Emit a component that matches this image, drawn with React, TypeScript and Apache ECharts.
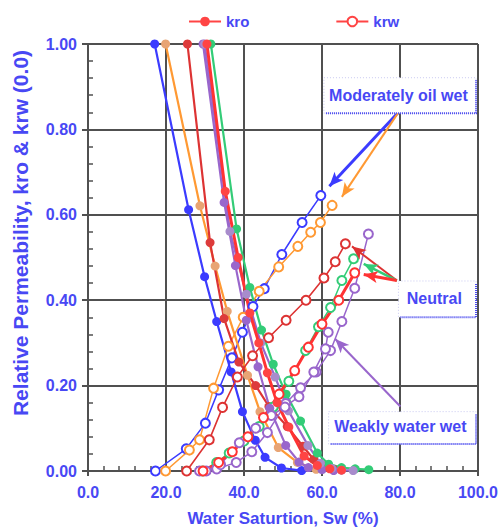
import React, { useEffect, useRef } from "react";
import * as echarts from "echarts";

// ---- data (Sw %, kr) ----
const blueKro = [[17.1,1.0],[25.8,0.612],[29.9,0.455],[33,0.35],[36.7,0.232],[39.6,0.139],[42.9,0.072],[45.4,0.032],[49.6,0.007],[54.8,0.001]];
const blueKrw = [[17.3,0],[25.2,0.052],[30.1,0.112],[33.5,0.19],[36.9,0.265],[39.6,0.325],[42.3,0.385],[45.2,0.427],[49.7,0.507],[54.9,0.582],[59.7,0.645]];
const orangeKro = [[19.9,1.0],[28.7,0.621],[32.6,0.48],[35.7,0.374],[40.9,0.224],[44.1,0.139],[48.8,0.055],[53.7,0.02],[58.5,0.004]];
const orangeKrw = [[19.9,0],[26,0.049],[28.6,0.073],[32.2,0.194],[36,0.292],[39.8,0.36],[43.9,0.421],[48.9,0.478],[53.8,0.526],[57.1,0.559],[59.6,0.582],[62.6,0.622]];
const darkRedKro = [[25.5,1.0],[31.3,0.535],[34.9,0.357],[38.7,0.255],[43,0.2],[46.4,0.151],[51.1,0.104],[55.1,0.058],[57.9,0.027],[60.5,0.012],[63,0.004]];
const darkRedKrw = [[25.3,0],[31.1,0.073],[34.5,0.149],[38.3,0.22],[42.2,0.27],[46.3,0.312],[50.8,0.353],[55.9,0.4],[60.5,0.452],[63.4,0.49],[66,0.532]];
const redKro = [[30.5,1.0],[35.2,0.655],[38.5,0.5],[41.5,0.37],[43.8,0.3],[46,0.23],[48.5,0.16],[51.5,0.103],[55.4,0.035],[58.8,0.013],[62,0.005],[65,0.002]];
const redKrw = [[29.5,0],[33.5,0.02],[37,0.045],[41,0.08],[45,0.125],[49,0.18],[53,0.235],[56.5,0.29],[60,0.344],[64.3,0.4],[68.4,0.464]];
const greenKro = [[31.5,1.0],[38.1,0.567],[41.5,0.43],[44.5,0.33],[47.5,0.25],[50.8,0.18],[54.5,0.117],[58.8,0.042],[61.7,0.016],[65,0.008],[68.5,0.005],[72,0.003]];
const greenKrw = [[29.4,0],[33,0.02],[36.2,0.042],[40,0.07],[43.9,0.104],[47.5,0.15],[51.5,0.21],[55.8,0.282],[59.1,0.338],[62.2,0.383],[65.1,0.446],[68.1,0.497]];
const purpleKro = [[29.5,1.0],[34.9,0.629],[37.8,0.481],[40.6,0.353],[43.6,0.244],[46.6,0.147],[50.7,0.06],[54.1,0.021],[56.5,0.008],[60,0.003],[63,0.001]];
const purpleKrw = [[28.6,0],[33,0.005],[38,0.02],[42,0.045],[46,0.09],[50.7,0.158],[54.5,0.195],[58.5,0.232],[62.2,0.282],[65.1,0.35],[68.4,0.428],[71.9,0.555]];
const lilacKro = [[29.9,1.0],[36.4,0.561],[40.6,0.414],[44.3,0.3],[48,0.22],[51.4,0.141],[56.4,0.06],[59.6,0.018],[62.5,0.006],[65,0.002],[68,0.001]];
const lilacKrw = [[30.3,0],[34,0.015],[38.8,0.066],[43,0.1],[47,0.13],[50.5,0.15],[54.1,0.174],[57.9,0.232],[60.9,0.286],[61.6,0.325]];

const legendNames = ["kro", "krw"];
const xTickValues = [0, 20, 40, 60, 80, 100];
const yTickValues = [0, 0.2, 0.4, 0.6, 0.8, 1.0];
const yTitle = "Relative Permeability, kro & krw (0.0)";
const xTitle = "Water Saturtion, Sw (%)";

const annotations = [
  { text: "Moderately oil wet", box: [60.5, 0.838, 99.5, 0.921], at: [79.6, 0.879] },
  { text: "Neutral", box: [79.6, 0.36, 99.5, 0.445], at: [88.8, 0.405] },
  { text: "Weakly water wet", box: [61.7, 0.063, 99.5, 0.139], at: [80.1, 0.104] },
];

const arrows = [
  { from: [79.6, 0.84], to: [61.9, 0.667], color: "#3b3bff", width: 3 },
  { from: [79.6, 0.84], to: [65.1, 0.642], color: "#ff9933", width: 2 },
  { from: [79.2, 0.446], to: [67.7, 0.526], color: "#dd3333", width: 2 },
  { from: [79.2, 0.446], to: [70.7, 0.485], color: "#33cc77", width: 2.5 },
  { from: [79.2, 0.446], to: [70.7, 0.46], color: "#ff3333", width: 3 },
  { from: [80.1, 0.151], to: [63.4, 0.309], color: "#9966cc", width: 2 },
];

const FONT = "Liberation Sans";
const BLUE_TEXT = "#4848f4";
const GRID_COLOR = "#505050";

function kro(data: number[][], line: string, marker: string, width = 2.2) {
  return {
    type: "line", data, symbol: "circle", symbolSize: 9, z: 3,
    lineStyle: { color: line, width },
    itemStyle: { color: marker },
  };
}
function krw(data: number[][], color: string, width = 1.5) {
  return {
    type: "line", data, symbol: "emptyCircle", symbolSize: 9, z: 3,
    lineStyle: { color, width },
    itemStyle: { color, borderColor: color, borderWidth: 1.5 },
  };
}

export default function App() {
  const ref = useRef<HTMLDivElement>(null);
  useEffect(() => {
    const chart = echarts.init(ref.current!, null, { renderer: "svg" });
    const labelStyle = { color: BLUE_TEXT, fontFamily: FONT, fontWeight: "bold", fontSize: 16 };
    const arrowSeries = {
      type: "line", data: [], silent: true,
      markLine: {
        silent: true, animation: false,
        symbol: ["none", "arrow"], symbolSize: [9, 14],
        label: { show: false },
        data: arrows.map((a) => [
          { coord: a.from, lineStyle: { color: a.color, width: a.width, type: "solid" }, itemStyle: { color: a.color } },
          { coord: a.to },
        ]),
      },
    };
    chart.setOption({
      animation: false,
      backgroundColor: "#ffffff",
      grid: { left: 88, right: 21, top: 44, bottom: 57 },
      legend: {
        data: legendNames, top: 9, left: 183, itemWidth: 32, itemHeight: 12, itemGap: 86,
        textStyle: { ...labelStyle, fontSize: 15 },
      },
      xAxis: [
        {
          type: "value", min: 0, max: 100, interval: 20,
          name: xTitle, nameLocation: "middle", nameGap: 39,
          nameTextStyle: { ...labelStyle, fontSize: 17 },
          axisLine: { lineStyle: { color: GRID_COLOR, width: 2 } },
          axisTick: { show: true, inside: false, length: 5, lineStyle: { color: GRID_COLOR, width: 2 } },
          axisLabel: { ...labelStyle, margin: 13, formatter: (v: number) => (xTickValues.includes(v) ? v.toFixed(1) : "") },
          splitLine: { show: true, lineStyle: { color: GRID_COLOR, width: 2 } },
        },
        {
          type: "value", min: 0, max: 100, interval: 4, position: "bottom",
          axisLine: { show: false }, axisLabel: { show: false }, splitLine: { show: false },
          axisTick: { show: true, inside: true, length: 5, lineStyle: { color: GRID_COLOR, width: 1.5 } },
        },
      ],
      yAxis: [
        {
          type: "value", min: 0, max: 1, interval: 0.2,
          axisLine: { show: true, lineStyle: { color: GRID_COLOR, width: 2 } },
          axisTick: { show: true, inside: false, length: 6, lineStyle: { color: GRID_COLOR, width: 2 } },
          axisLabel: { ...labelStyle, margin: 11, formatter: (v: number) => (yTickValues.some((t) => Math.abs(t - v) < 1e-9) ? v.toFixed(2) : "") },
          splitLine: { show: true, lineStyle: { color: GRID_COLOR, width: 2 } },
        },
        {
          type: "value", min: 0, max: 1, interval: 0.04, position: "left",
          axisLine: { show: false }, axisLabel: { show: false }, splitLine: { show: false },
          axisTick: { show: true, inside: true, length: 5, lineStyle: { color: GRID_COLOR, width: 1.5 } },
        },
      ],
      series: [
        { type: "line", name: "kro", data: [], symbol: "circle", symbolSize: 10, lineStyle: { color: "#ff4444", width: 3 }, itemStyle: { color: "#ff4444" } },
        { type: "line", name: "krw", data: [], symbol: "emptyCircle", symbolSize: 10, lineStyle: { color: "#ff4444", width: 3 }, itemStyle: { color: "#ff4444", borderWidth: 2 } },
        kro(blueKro, "#3b3bff", "#3b3bff"),
        krw(blueKrw, "#3b3bff"),
        kro(orangeKro, "#ff9933", "#e8a474"),
        krw(orangeKrw, "#ff9933"),
        kro(darkRedKro, "#dd3333", "#dd3b3b"),
        krw(darkRedKrw, "#dd3333", 1.6),
        kro(greenKro, "#33cc77", "#33cc77"),
        krw(greenKrw, "#33cc77"),
        kro(purpleKro, "#9966cc", "#9966cc"),
        krw(purpleKrw, "#9966cc"),
        kro(lilacKro, "#9966cc", "#a88ccc"),
        krw(lilacKrw, "#9966cc"),
        kro(redKro, "#ff3333", "#ff4444", 3),
        krw(redKrw, "#ff3333", 3),
        arrowSeries,
      ],
    });

    const graphics: any[] = [
      {
        type: "text", x: 20, y: 233, rotation: Math.PI / 2, z: 5,
        style: { text: yTitle, fill: BLUE_TEXT, font: `bold 21px '${FONT}'`, align: "center", verticalAlign: "middle" },
      },
    ];
    annotations.forEach((a) => {
      const p0 = chart.convertToPixel({ gridIndex: 0 }, [a.box[0], a.box[3]]) as number[];
      const p1 = chart.convertToPixel({ gridIndex: 0 }, [a.box[2], a.box[1]]) as number[];
      const c = chart.convertToPixel({ gridIndex: 0 }, a.at) as number[];
      const w = p1[0] - p0[0];
      const h = p1[1] - p0[1];
      graphics.push({
        type: "rect", z: 20, shape: { x: p0[0], y: p0[1], width: w, height: h },
        style: { fill: "#ffffff", stroke: "#c8c8f0", lineWidth: 1, lineDash: [1, 2] },
      });
      graphics.push({
        type: "polyline", z: 21,
        shape: { points: [[p0[0] + 2, p1[1]], [p1[0], p1[1]], [p1[0], p0[1] + 2]] },
        style: { fill: null, stroke: "#4a4af0", lineWidth: 2, lineDash: [1, 1] },
      });
      graphics.push({
        type: "text", z: 22, x: c[0], y: c[1],
        style: { text: a.text, fill: BLUE_TEXT, font: `bold 16px '${FONT}'`, align: "center", verticalAlign: "middle" },
      });
    });
    chart.setOption({ graphic: graphics });

    return () => chart.dispose();
  }, []);
  return <div ref={ref} style={{ position: "fixed", left: 0, top: 0, width: 501, height: 532 }} />;
}
